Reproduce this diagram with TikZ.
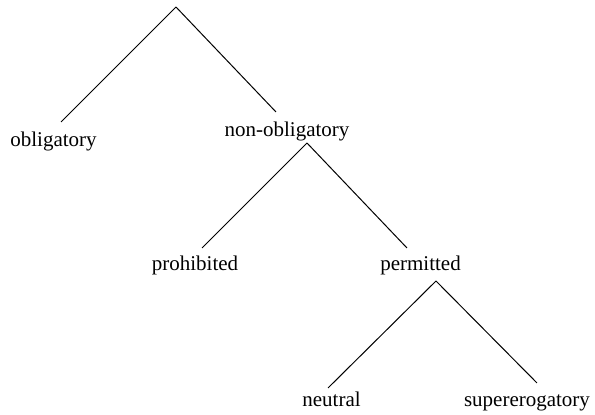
\documentclass[tikz,border=0pt]{standalone}
\usepackage{fontspec}
\setmainfont{Liberation Serif}
\begin{document}
\begin{tikzpicture}[x=0.5pt, y=-0.5pt]
\tikzset{ inner sep=0pt, outer sep=0pt,
  leaf/.style={anchor=base, font=\fontsize{10.5}{12}\selectfont},
  branch/.style={line width=0.5pt} }

\useasboundingbox (0,0) rectangle (595,415);

%\draw [lightgray, dashed](0,0) grid[step=50] (595,415);

\coordinate (root) at (176,7);

\node [leaf] (obl)   at (53.5,147) {obligatory};
\node [leaf] (nobl)  at (287,137)  {non-obligatory};
\node [leaf] (proh)  at (195,271)  {prohibited};
\node [leaf] (perm)  at (420.5,271) {permitted};
\node [leaf] (neut)  at (331.5,407) {neutral};
\node [leaf] (super) at (527,407)  {supererogatory};

\draw [branch] (root) -- ([shift={(7.5,-25)}]obl.base);
\draw [branch] (root) -- ([shift={(-11,-25)}]nobl.base);

\draw [branch] ([shift={(20,6)}]nobl.base) -- ([shift={(7,-23)}]proh.base);
\draw [branch] ([shift={(20,6)}]nobl.base) -- ([shift={(-13.5,-23)}]perm.base);

\draw [branch] ([shift={(15.5,10)}]perm.base) -- ([shift={(-3.5,-19)}]neut.base);
\draw [branch] ([shift={(15.5,10)}]perm.base) -- ([shift={(10,-24)}]super.base);

\end{tikzpicture}
\end{document}
